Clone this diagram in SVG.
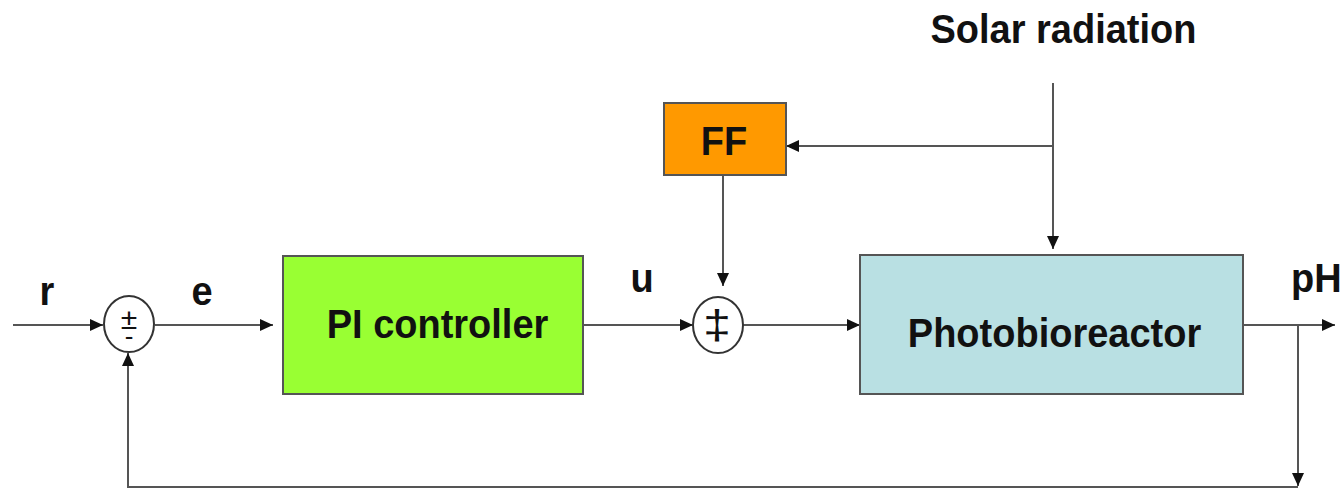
<svg xmlns="http://www.w3.org/2000/svg" width="1343" height="489" viewBox="0 0 1343 489">
<defs>
<marker id="arr" markerUnits="userSpaceOnUse" markerWidth="14" markerHeight="12" refX="13" refY="6" orient="auto">
<path d="M0,0 L13,6 L0,12 Z" fill="#111"/>
</marker>
<style>
.ln{stroke:#555;stroke-width:2;fill:none}
.lbl{font-family:"Liberation Sans",Arial,sans-serif;font-weight:bold;font-size:38px;fill:#111}
.box{stroke:#555;stroke-width:2}
.sum{fill:#fff;stroke:#333;stroke-width:2}
.sym{font-family:"Liberation Sans",Arial,sans-serif;fill:#111;text-anchor:middle}
</style>
</defs>
<rect width="1343" height="489" fill="#fff"/>
<g id="connectors">
<line class="ln" x1="13" y1="325" x2="103" y2="325" marker-end="url(#arr)"/>
<line class="ln" x1="155" y1="325" x2="273" y2="325" marker-end="url(#arr)"/>
<line class="ln" x1="583" y1="325" x2="693" y2="325" marker-end="url(#arr)"/>
<line class="ln" x1="743" y1="325" x2="860" y2="325" marker-end="url(#arr)"/>
<line class="ln" x1="1243" y1="325" x2="1335" y2="325" marker-end="url(#arr)"/>
<line class="ln" x1="1298" y1="325" x2="1298" y2="486" marker-end="url(#arr)"/>
<polyline class="ln" points="1298,487 128,487 128,353" marker-end="url(#arr)"/>
<line class="ln" x1="1053" y1="83" x2="1053" y2="249" marker-end="url(#arr)"/>
<line class="ln" x1="1053" y1="146" x2="786" y2="146" marker-end="url(#arr)"/>
<line class="ln" x1="723" y1="176" x2="723" y2="286" marker-end="url(#arr)"/>
</g>
<g id="sum1">
<ellipse class="sum" cx="129" cy="324" rx="25" ry="28"/>
<text class="sym" font-size="30"><tspan x="129" y="329">±</tspan><tspan x="129" y="345" font-size="26">-</tspan></text>
</g>
<g id="sum2">
<ellipse class="sum" cx="718" cy="325" rx="25" ry="28"/>
<text class="sym" font-size="36" transform="translate(717,339) scale(1.4,1.12)">‡</text>
</g>
<g id="pi">
<rect class="box" x="283" y="256" width="300" height="138" fill="#99ff33"/>
<text class="lbl" text-anchor="middle" transform="translate(437.5,338) scale(1,1.08)">PI controller</text>
</g>
<g id="ff">
<rect class="box" x="664" y="103" width="122" height="72" fill="#ff9900"/>
<text class="lbl" text-anchor="middle" transform="translate(724,155) scale(1,1.08)" font-size="37">FF</text>
</g>
<g id="pbr">
<rect class="box" x="860" y="255" width="383" height="139" fill="#b9e0e3"/>
<text class="lbl" text-anchor="middle" transform="translate(1054.5,347) scale(1,1.08)">Photobioreactor</text>
</g>
<g id="labels">
<text class="lbl" text-anchor="middle" transform="translate(1063.5,43) scale(1,1.08)">Solar radiation</text>
<text class="lbl" text-anchor="middle" transform="translate(47,305) scale(1,1.08)">r</text>
<text class="lbl" text-anchor="middle" transform="translate(202,305) scale(1,1.08)">e</text>
<text class="lbl" text-anchor="middle" transform="translate(642,292) scale(1,1.08)">u</text>
<text class="lbl" transform="translate(1291,292) scale(1,1.08)">pH</text>
</g>
</svg>
